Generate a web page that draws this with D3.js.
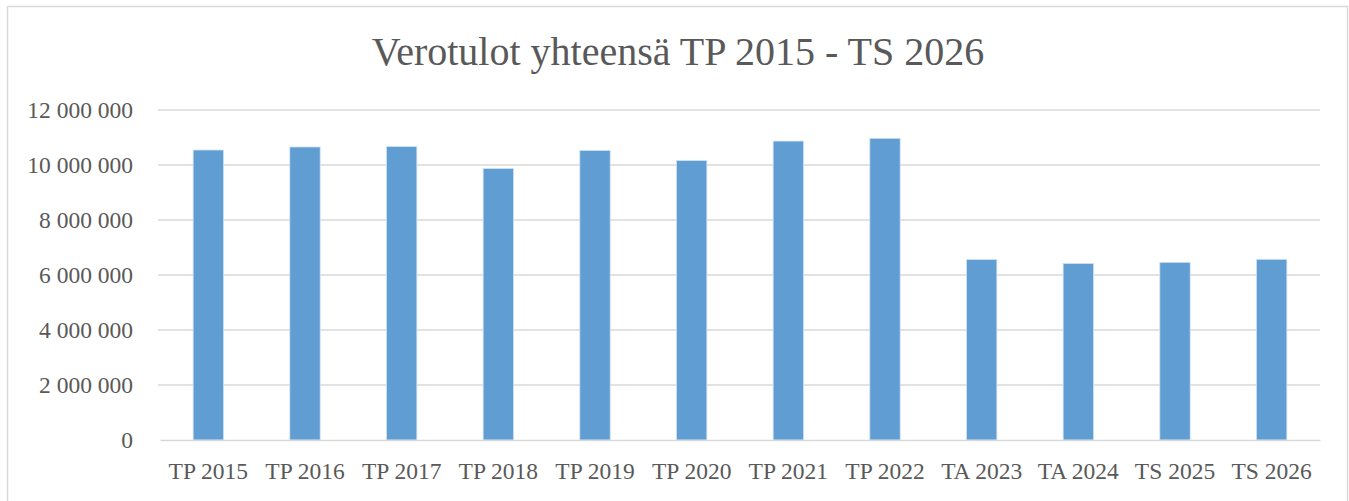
<!DOCTYPE html>
<html>
<head>
<meta charset="utf-8">
<script src="https://cdn.jsdelivr.net/npm/d3@7"></script>
<style>
  html, body { margin: 0; padding: 0; background: #fff; }
  svg text { font-family: "Liberation Serif", "Times New Roman", serif; fill: #595959; }
</style>
</head>
<body>
<div id="chart"></div>
<script>
// chart data
var categories = ["TP 2015", "TP 2016", "TP 2017", "TP 2018", "TP 2019", "TP 2020",
                  "TP 2021", "TP 2022", "TA 2023", "TA 2024", "TS 2025", "TS 2026"];
var verotulot = [10545000, 10655000, 10670000, 9870000, 10530000, 10160000,
                 10870000, 10970000, 6560000, 6420000, 6460000, 6570000];
var yTicks = [0, 2000000, 4000000, 6000000, 8000000, 10000000, 12000000];
var title = "Verotulot yhteensä TP 2015 - TS 2026";

var width = 1349, height = 501;
var margin = { top: 110, right: 29, bottom: 61, left: 160 };
var innerW = width - margin.left - margin.right;
var innerH = height - margin.top - margin.bottom;

var svg = d3.select("#chart").append("svg")
    .attr("width", width)
    .attr("height", height);

// outer chart border
svg.append("rect")
    .attr("x", 7.5).attr("y", 6.5)
    .attr("width", 1340).attr("height", 500)
    .attr("fill", "none")
    .attr("stroke", "#d9d9d9")
    .attr("stroke-width", 1.5);

svg.append("text")
    .attr("x", 678)
    .attr("y", 65)
    .attr("text-anchor", "middle")
    .style("font-size", "40px")
    .text(title);

var g = svg.append("g").attr("transform", "translate(" + margin.left + "," + margin.top + ")");

var x = d3.scaleBand().domain(categories).range([0, innerW]).paddingInner(0.686).paddingOuter(0.343);
var y = d3.scaleLinear().domain([0, 12000000]).range([innerH, 0]);

var fmt = function (d) { return d3.format(",")(d).replace(/,/g, " "); };

// gridlines
g.selectAll(".grid").data(yTicks.slice(1)).enter().append("line")
    .attr("x1", -2).attr("x2", innerW)
    .attr("y1", function (d) { return y(d); })
    .attr("y2", function (d) { return y(d); })
    .attr("stroke", "#d9d9d9")
    .attr("stroke-width", 1.5);

// y labels
var yAxis = g.append("g").call(d3.axisLeft(y).tickValues(yTicks).tickFormat(fmt).tickSize(0).tickPadding(27));
yAxis.select(".domain").remove();
yAxis.selectAll("text").style("font-size", "23.5px").attr("dy", "0.32em");

// bars
g.selectAll(".bar").data(verotulot).enter().append("rect")
    .attr("x", function (d, i) { return x(categories[i]); })
    .attr("y", function (d) { return y(d); })
    .attr("width", x.bandwidth())
    .attr("height", function (d) { return innerH - y(d); })
    .attr("fill", "#5f9dd3")
    .attr("stroke", "#cfe1f3")
    .attr("stroke-width", 0.8);

// x axis
var xAxis = g.append("g").attr("transform", "translate(0," + innerH + ")")
    .call(d3.axisBottom(x).tickSize(0).tickPadding(22));
xAxis.select(".domain").attr("stroke", "#d9d9d9").attr("stroke-width", 1.5);
xAxis.selectAll("text").style("font-size", "23.5px");
</script>
</body>
</html>
